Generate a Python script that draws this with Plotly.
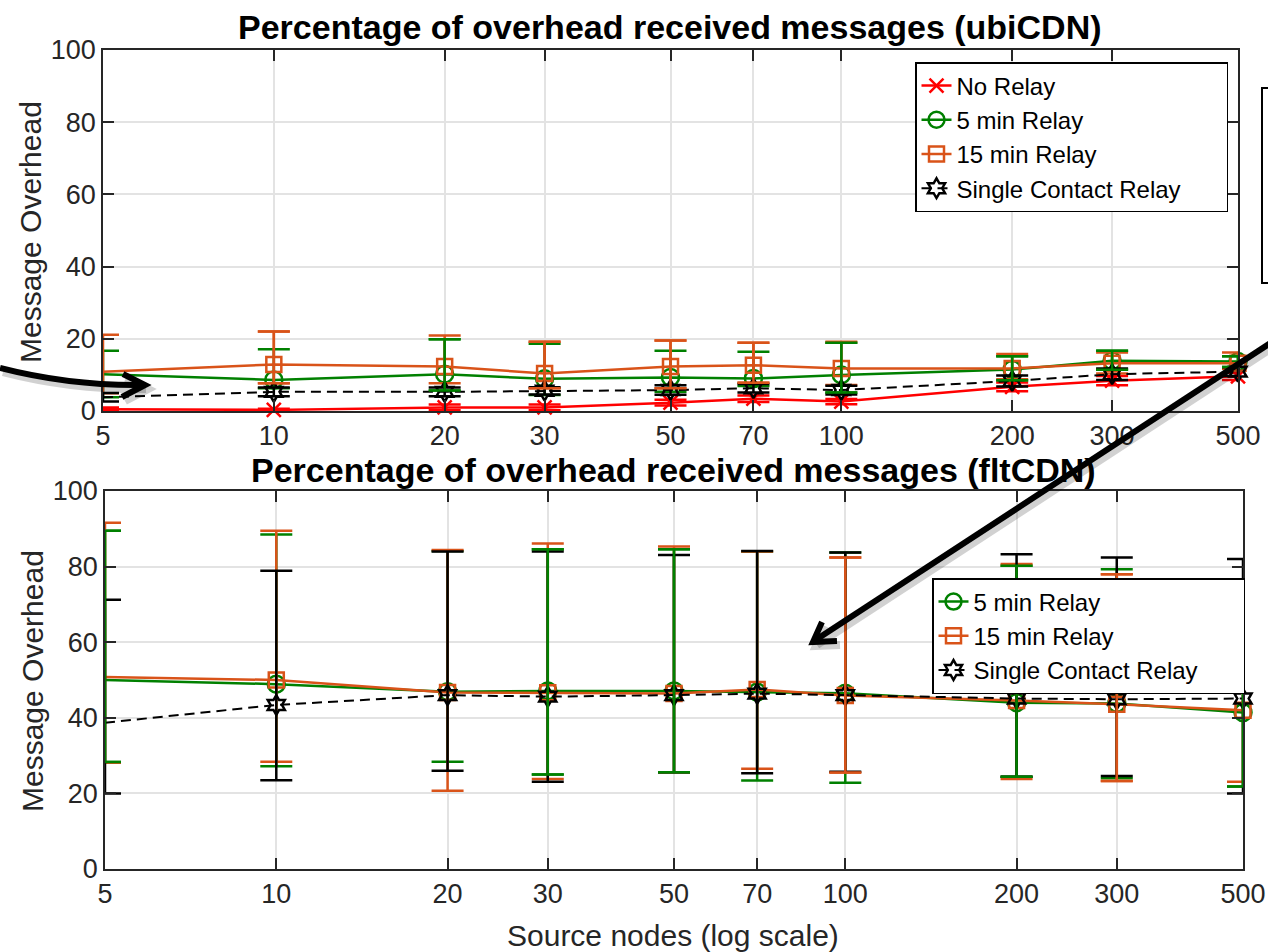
import math
import plotly.graph_objects as go

W, H = 1268, 952

# Source node counts (x axis, log scale)
source_nodes = [5, 10, 20, 30, 50, 70, 100, 200, 300, 500]
x_tick_labels = ["5", "10", "20", "30", "50", "70", "100", "200", "300", "500"]
y_ticks = [0, 20, 40, 60, 80, 100]

# ubiCDN: mean overhead (%) and error extents
ubi_no_relay = [0.5, 0.3, 1.0, 1.0, 2.3, 3.4, 2.6, 6.7, 8.4, 9.6]
ubi_no_relay_err = [0.5, 0.3, 0.8, 0.8, 0.8, 0.9, 0.7, 1.2, 1.3, 1.0]

ubi_relay5 = [10.2, 8.6, 10.2, 8.9, 9.3, 9.0, 10.0, 11.5, 13.9, 13.7]
ubi_relay5_up = [6.5, 8.5, 9.7, 9.7, 7.4, 7.4, 8.9, 3.7, 2.8, 1.5]
ubi_relay5_dn = [6.4, 2.3, 4.5, 4.5, 4.0, 2.1, 4.9, 3.0, 2.5, 1.5]

ubi_relay15 = [10.9, 12.9, 12.3, 10.4, 12.3, 12.7, 11.8, 11.8, 13.2, 13.2]
ubi_relay15_up = [10.2, 9.1, 8.6, 8.8, 7.2, 6.2, 7.4, 4.0, 3.0, 3.0]
ubi_relay15_dn = [6.0, 5.2, 4.6, 4.1, 6.0, 4.9, 4.6, 3.0, 2.8, 1.5]

ubi_single = [3.8, 5.3, 5.3, 5.6, 5.8, 6.3, 5.8, 8.3, 10.2, 10.9]
ubi_single_err = [1.2, 1.2, 1.2, 1.0, 1.3, 1.2, 1.2, 1.5, 1.6, 1.2]

# fltCDN: mean overhead (%) and error extents
flt_relay5 = [50.0, 48.9, 46.9, 47.1, 47.1, 46.8, 46.5, 44.0, 43.8, 41.4]
flt_relay5_up = [39.5, 39.6, 37.2, 37.5, 37.5, 37.2, 37.2, 36.2, 35.5, 34.0]
flt_relay5_dn = [21.7, 21.7, 18.5, 22.1, 21.5, 23.4, 23.7, 19.6, 19.8, 19.6]

flt_relay15 = [50.8, 50.0, 46.7, 46.6, 46.4, 47.5, 45.9, 44.6, 43.6, 42.0]
flt_relay15_up = [40.8, 39.5, 37.7, 39.5, 38.9, 36.5, 36.5, 36.1, 34.4, 33.5]
flt_relay15_dn = [22.7, 21.6, 26.0, 22.8, 20.8, 21.0, 20.4, 20.8, 20.3, 18.9]

flt_single = [38.7, 43.4, 46.0, 45.6, 46.0, 46.4, 46.0, 45.1, 44.9, 45.1]
flt_single_up = [32.5, 35.5, 38.0, 38.4, 37.1, 37.7, 37.7, 38.2, 37.5, 36.9]
flt_single_dn = [18.7, 19.9, 20.0, 22.5, 20.4, 21.1, 20.3, 20.7, 20.3, 25.1]

# which series' error bar is painted last at each x (None = natural order)
ubi_bar_on_top = [None, "15", "5", "15", "15", "15", "5", "5", "5", "5"]
flt_bar_on_top = ["5", None, None, "5", "5", None, "15", "5", "15", "5"]

RED = "#FF0000"
GREEN = "#008000"
ORANGE = "#D95319"
BLACK = "#000000"
AXIS = "#262626"
GRID = "#E3E3E3"
FONT = "Liberation Sans, Arial, Helvetica, sans-serif"
PAD = "\u00a0" * 6  # right padding inside the legend boxes

fig = go.Figure()


def err(up, dn, color):
    return dict(type="data", symmetric=False, array=up, arrayminus=dn,
                color=color, thickness=2.5, width=16)


def add_series(name, y, up, dn, color, symbol, size, dash, xa, ya, legend):
    fig.add_trace(go.Scatter(
        x=source_nodes, y=y, name=name, mode="lines+markers",
        line=dict(color=color, width=2.5 if dash == "solid" else 2, dash=dash),
        marker=dict(symbol=symbol, size=size, color=color,
                    line=dict(color=color, width=2.5)),
        error_y=err(up, dn, color),
        xaxis=xa, yaxis=ya, legend=legend, cliponaxis=False,
    ))


def add_bar_overlay(key, order, y, up, dn, color, xa, ya):
    """Repaint the error bars of one series at the x positions where it sits on top."""
    ym = [v if k == key else None for v, k in zip(y, order)]
    if all(v is None for v in ym):
        return
    fig.add_trace(go.Scatter(
        x=source_nodes, y=ym, mode="markers",
        marker=dict(size=1, color="rgba(0,0,0,0)"),
        error_y=err(up, dn, color), showlegend=False, hoverinfo="skip",
        xaxis=xa, yaxis=ya, cliponaxis=False,
    ))


# top panel (ubiCDN)
add_series("No Relay", ubi_no_relay, ubi_no_relay_err, ubi_no_relay_err,
           RED, "x-thin-open", 14, "solid", "x", "y", "legend")
add_series("5 min Relay", ubi_relay5, ubi_relay5_up, ubi_relay5_dn,
           GREEN, "circle-open", 17, "solid", "x", "y", "legend")
add_series("15 min Relay", ubi_relay15, ubi_relay15_up, ubi_relay15_dn,
           ORANGE, "square-open", 15, "solid", "x", "y", "legend")
add_series("Single Contact Relay" + PAD, ubi_single, ubi_single_err, ubi_single_err,
           BLACK, "hexagram-open", 15, "10px,6px", "x", "y", "legend")
add_bar_overlay("5", ubi_bar_on_top, ubi_relay5, ubi_relay5_up, ubi_relay5_dn,
                GREEN, "x", "y")
add_bar_overlay("15", ubi_bar_on_top, ubi_relay15, ubi_relay15_up, ubi_relay15_dn,
                ORANGE, "x", "y")

# bottom panel (fltCDN)
add_series("5 min Relay", flt_relay5, flt_relay5_up, flt_relay5_dn,
           GREEN, "circle-open", 17, "solid", "x2", "y2", "legend2")
add_series("15 min Relay", flt_relay15, flt_relay15_up, flt_relay15_dn,
           ORANGE, "square-open", 15, "solid", "x2", "y2", "legend2")
add_series("Single Contact Relay" + PAD, flt_single, flt_single_up, flt_single_dn,
           BLACK, "hexagram-open", 15, "10px,6px", "x2", "y2", "legend2")
add_bar_overlay("5", flt_bar_on_top, flt_relay5, flt_relay5_up, flt_relay5_dn,
                GREEN, "x2", "y2")
add_bar_overlay("15", flt_bar_on_top, flt_relay15, flt_relay15_up, flt_relay15_dn,
                ORANGE, "x2", "y2")


def px(x, y):
    return x / W, 1 - y / H


def axis_style(**kw):
    base = dict(showline=True, linecolor=AXIS, linewidth=1.5, mirror="allticks",
                ticks="inside", ticklen=11, tickwidth=1.5, tickcolor=AXIS,
                showgrid=True, gridcolor=GRID, gridwidth=1.5, zeroline=False,
                automargin=False,
                tickfont=dict(family=FONT, size=27, color=AXIS))
    base.update(kw)
    return base


xr = [math.log10(5), math.log10(500)]
legend_style = dict(xanchor="left", yanchor="top", bgcolor="white",
                    bordercolor=BLACK, borderwidth=1.5,
                    font=dict(family=FONT, size=24, color=BLACK),
                    itemwidth=30, tracegroupgap=0)
fig.update_layout(
    width=W, height=H, margin=dict(l=0, r=0, t=0, b=0, autoexpand=False),
    paper_bgcolor="white", plot_bgcolor="white",
    font=dict(family=FONT, color=AXIS),
    xaxis=axis_style(type="log", range=xr, domain=[103 / W, 1238 / W],
                     tickvals=source_nodes, ticktext=x_tick_labels, anchor="y"),
    yaxis=axis_style(range=[0, 100], tickvals=y_ticks,
                     domain=[1 - 411 / H, 1 - 50 / H], anchor="x"),
    xaxis2=axis_style(type="log", range=xr, domain=[105 / W, 1243 / W],
                      tickvals=source_nodes, ticktext=x_tick_labels, anchor="y2"),
    yaxis2=axis_style(range=[0, 100], tickvals=y_ticks,
                      domain=[1 - 869 / H, 1 - 491 / H], anchor="x2"),
    legend=dict(x=915 / W, y=1 - 62 / H, **legend_style),
    legend2=dict(x=932 / W, y=1 - 578 / H, **legend_style),
    showlegend=True,
)

# titles and axis labels
texts = [
    ("<b>Percentage of overhead received messages (ubiCDN)</b>", 670, 27, 0, 34, BLACK),
    ("<b>Percentage of overhead received messages (fltCDN)</b>", 673, 470, 0, 34, BLACK),
    ("Message Overhead", 30, 232, -90, 30, AXIS),
    ("Message Overhead", 32, 681, -90, 30, AXIS),
    ("Source nodes (log scale)", 673, 935, 0, 30, AXIS),
]
for t, x, y, ang, sz, col in texts:
    ax, ay = px(x, y)
    fig.add_annotation(text=t, x=ax, y=ay, xref="paper", yref="paper",
                       xanchor="center", yanchor="middle", showarrow=False,
                       textangle=ang, font=dict(family=FONT, size=sz, color=col))


def pt(a, b):
    return "%.5f,%.5f" % px(a, b)


def polyline(points):
    return "M " + pt(*points[0]) + "".join(" L " + pt(*p) for p in points[1:])


def add_path(d, color, width):
    fig.add_shape(type="path", xref="paper", yref="paper", path=d,
                  line=dict(color=color, width=width), layer="above")


# pointer arrows linking the panels (soft shadow first, then the arrow)
for dx, dy, col, w in [(3, 4, "rgba(0,0,0,0.18)", 8), (0, 0, BLACK, 6)]:
    curve = "M %s Q %s %s" % (pt(0 + dx, 368 + dy), pt(70 + dx, 386 + dy),
                              pt(143 + dx, 385 + dy))
    add_path(curve, col, w)
    add_path(polyline([(123 + dx, 374 + dy), (145 + dx, 385 + dy),
                       (122 + dx, 397 + dy)]), col, w)
    add_path(polyline([(1275 + dx, 340 + dy), (814 + dx, 641 + dy)]), col, w)
    add_path(polyline([(822 + dx, 622 + dy), (813 + dx, 642 + dy),
                       (837 + dx, 641 + dy)]), col, w)

# partially visible box at the right edge
bx0, by0 = px(1262, 88)
bx1, by1 = px(1280, 283)
fig.add_shape(type="rect", xref="paper", yref="paper", x0=bx0, y0=by1, x1=bx1, y1=by0,
              line=dict(color=BLACK, width=2), fillcolor="rgba(0,0,0,0)", layer="above")

fig.write_html("out.html", config={"displayModeBar": False})
